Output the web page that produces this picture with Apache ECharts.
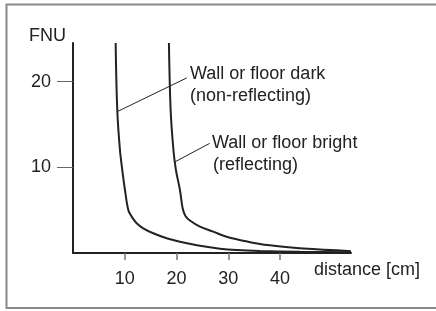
<!DOCTYPE html>
<html>
<head>
<meta charset="utf-8">
<title>FNU vs distance</title>
<script src="https://cdn.jsdelivr.net/npm/echarts@6/dist/echarts.min.js"></script>
<style>
  html, body { margin: 0; padding: 0; background: #fff; }
  #chart { width: 436px; height: 311px; }
</style>
</head>
<body>
<div id="chart"></div>
<script>
// distance [cm] / FNU
var darkX = [8.24, 8.55, 9.07, 9.52, 10.04, 10.68, 11.33, 12.3, 13.57, 15.5, 18.09, 20.66, 24.52, 28.38, 31.6, 36.1, 43.8, 53.7];
var darkY = [24.5, 16.69, 12.02, 9.68, 7.35, 5.02, 4.24, 3.47, 2.88, 2.3, 1.72, 1.32, 0.84, 0.5, 0.34, 0.23, 0.14, 0.09];
var brightX = [18.53, 18.86, 19.4, 19.88, 20.66, 21.18, 21.72, 22.59, 24.52, 27.08, 29.67, 32.88, 36.1, 40.6, 47.05, 53.7];
var brightY = [24.5, 16.69, 12.02, 9.68, 7.35, 5.22, 4.32, 3.79, 3.07, 2.49, 1.9, 1.44, 1.05, 0.74, 0.43, 0.21];
var xTicks = [10, 20, 30, 40];
var yTicks = [10, 20];
// leader lines (data coords)
var leaderDark = [[8.5, 16.48], [21.95, 20.42]];
var leaderBright = [[19.7, 10.64], [26.4, 12.79]];

function pairs(xs, ys) {
  var out = [];
  for (var i = 0; i < xs.length; i++) out.push([xs[i], ys[i]]);
  return out;
}

var FONT = 'Liberation Sans';
var FS = 18;
var INK = '#222';

var chart = echarts.init(document.getElementById('chart'));

function leader(p) {
  return {
    silent: true,
    symbol: 'none',
    label: { show: false },
    lineStyle: { color: INK, width: 1, type: 'solid' },
    emphasis: { disabled: true },
    data: [[{ coord: p[0] }, { coord: p[1] }]]
  };
}

function txt(str, x, y) {
  return {
    type: 'text', x: x, y: y,
    style: { text: str, font: FS + 'px ' + FONT, fill: INK, align: 'left', verticalAlign: 'middle' }
  };
}

var option = {
  animation: false,
  grid: { left: 73, right: 85, top: 43, bottom: 58 },
  xAxis: {
    type: 'value', min: 0, max: 53.7,
    splitLine: { show: false },
    axisLine: { lineStyle: { color: INK, width: 2 } },
    axisTick: { show: true, customValues: xTicks, length: 7, lineStyle: { color: '#777', width: 1.5 } },
    axisLabel: { customValues: xTicks, margin: 17, color: INK, fontFamily: FONT, fontSize: FS }
  },
  yAxis: {
    type: 'value', min: 0, max: 24.5,
    splitLine: { show: false },
    axisLine: { show: true, lineStyle: { color: INK, width: 2 } },
    axisTick: { show: true, customValues: yTicks, length: 16, lineStyle: { color: '#666', width: 1 } },
    axisLabel: { customValues: yTicks, margin: 22, color: INK, fontFamily: FONT, fontSize: FS }
  },
  series: [
    {
      type: 'line', data: pairs(darkX, darkY), smooth: 0.35,
      symbol: 'none', lineStyle: { color: INK, width: 2 },
      markLine: leader(leaderDark)
    },
    {
      type: 'line', data: pairs(brightX, brightY), smooth: 0.35,
      symbol: 'none', lineStyle: { color: INK, width: 2 },
      markLine: leader(leaderBright)
    }
  ],
  graphic: [
    { type: 'rect', shape: { x: 6.5, y: 4.5, width: 440, height: 303.5 }, style: { fill: 'none', stroke: '#888', lineWidth: 2 } },
    txt('FNU', 29, 36),
    txt('Wall or floor dark', 190, 74),
    txt('(non-reflecting)', 190, 96),
    txt('Wall or floor bright', 212, 143),
    txt('(reflecting)', 213, 165),
    txt('distance [cm]', 314, 270)
  ]
};
chart.setOption(option);
</script>
</body>
</html>
